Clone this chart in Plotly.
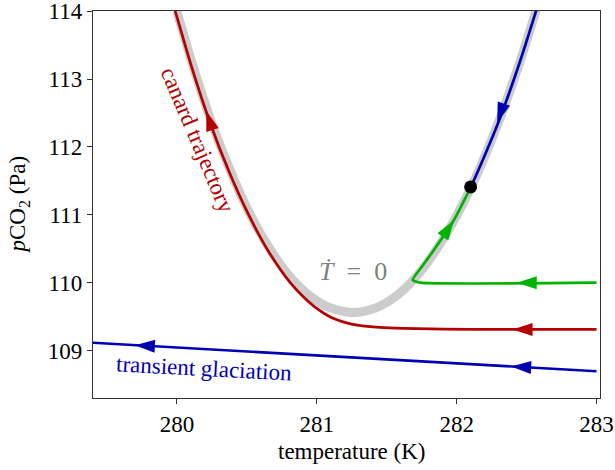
import plotly.graph_objects as go

# T-dot = 0 nullcline (gray band)
null_T = [280.00, 280.12, 280.25, 280.38, 280.52, 280.67, 280.82, 280.96, 281.10, 281.26,
          281.42, 281.56, 281.70, 281.90, 282.10, 282.30, 282.45, 282.60]
null_p = [114.00, 113.16, 112.35, 111.66, 111.02, 110.48, 110.06, 109.79, 109.625, 109.56,
          109.627, 109.79, 110.06, 110.63, 111.39, 112.37, 113.24, 114.23]

# canard trajectory (red)
red_T = [283.0, 282.1, 281.62, 281.45, 281.30, 281.20, 281.10, 281.00, 280.90, 280.81,
         280.655, 280.508, 280.368, 280.238, 280.108, 279.988, 279.97]
red_p = [109.31, 109.31, 109.325, 109.34, 109.37, 109.415, 109.49, 109.62, 109.80, 110.0,
         110.46, 111.02, 111.66, 112.35, 113.16, 114.00, 114.12]

# green trajectory
green_T = [283.0, 281.74, 281.685, 281.75, 281.83, 281.98, 282.10]
green_p = [110.0, 110.0, 110.04, 110.23, 110.46, 110.92, 111.40]

# blue trajectory on the upper branch
bluetop_T = [282.62, 282.45, 282.30, 282.20, 282.10]
bluetop_p = [114.35, 113.24, 112.37, 111.87, 111.40]

# transient glaciation (blue)
glac_T = [283.0, 279.35]
glac_p = [108.694, 109.12]

# fixed point
dot_T = [282.10]
dot_p = [111.41]

# arrows: tail T, tail p, tip T, tip p, colour key
arrow_tail_T = [279.85, 282.55, 282.55, 282.58, 281.91, 282.35, 280.27]
arrow_tail_p = [109.061, 108.747, 109.31, 110.0, 110.70, 112.71, 112.15]
arrow_tip_T = [279.70, 282.39, 282.40, 282.43, 281.98, 282.29, 280.21]
arrow_tip_p = [109.079, 108.765, 109.31, 110.0, 110.92, 112.36, 112.53]
arrow_col = ["blue", "blue", "red", "green", "green", "blue", "red"]

COL = {"red": "#b30000", "blue": "#0000b3", "green": "#00b300"}
FONT = "Liberation Serif, Times New Roman, serif"

fig = go.Figure()
fig.add_trace(go.Scatter(x=null_T, y=null_p, mode="lines",
                         line=dict(color="#cccccc", width=9, shape="spline", smoothing=1),
                         hoverinfo="skip"))
fig.add_trace(go.Scatter(x=red_T, y=red_p, mode="lines",
                         line=dict(color=COL["red"], width=2.7, shape="spline", smoothing=0.8)))
fig.add_trace(go.Scatter(x=green_T, y=green_p, mode="lines",
                         line=dict(color=COL["green"], width=2.7, shape="spline", smoothing=0.5)))
fig.add_trace(go.Scatter(x=bluetop_T, y=bluetop_p, mode="lines",
                         line=dict(color=COL["blue"], width=2.7, shape="spline", smoothing=0.8)))
fig.add_trace(go.Scatter(x=glac_T, y=glac_p, mode="lines",
                         line=dict(color=COL["blue"], width=2.7)))
fig.add_trace(go.Scatter(x=dot_T, y=dot_p, mode="markers",
                         marker=dict(color="black", size=13, opacity=1, line=dict(width=0))))

for tT, tp, hT, hp, c in zip(arrow_tail_T, arrow_tail_p, arrow_tip_T, arrow_tip_p, arrow_col):
    fig.add_trace(go.Scatter(x=[tT, hT], y=[tp, hp], mode="markers",
                             marker=dict(symbol="arrow", angleref="previous", opacity=1,
                                         size=[0, 21], color=COL[c], line=dict(width=0))))

fig.add_annotation(x=280.15, y=112.10, text="canard trajectory", showarrow=False,
                   textangle=67, font=dict(family=FONT, size=23, color=COL["red"]))
fig.add_annotation(x=280.196, y=108.73, text="transient glaciation", showarrow=False,
                   textangle=3, font=dict(family=FONT, size=23, color=COL["blue"]))
fig.add_annotation(x=281.256, y=110.17, text="<i>Ṫ</i>\u2002=\u20020", showarrow=False,
                   font=dict(family=FONT, size=26, color="#808080"))

# axis titles
fig.add_annotation(xref="paper", yref="paper", x=0.51, y=-0.137, text="temperature (K)",
                   showarrow=False, xanchor="center", yanchor="middle",
                   font=dict(family=FONT, size=23, color="black"))
fig.add_annotation(xref="paper", yref="paper", x=-0.146, y=0.50,
                   text="<i>p</i>CO<sub>2</sub> (Pa)", textangle=-90,
                   showarrow=False, xanchor="center", yanchor="middle",
                   font=dict(family=FONT, size=23, color="black"))

axis_common = dict(showline=True, mirror=True, linecolor="#333333", linewidth=1.3,
                   ticks="outside", ticklen=5, tickwidth=1.3, tickcolor="#333333",
                   showgrid=False, zeroline=False, automargin=False,
                   ticklabeloverflow="allow",
                   tickfont=dict(family=FONT, size=23, color="black"))

fig.update_layout(
    width=615, height=470,
    margin=dict(l=93, r=15, t=11, b=72, autoexpand=False),
    paper_bgcolor="white", plot_bgcolor="white",
    showlegend=False,
    xaxis=dict(range=[279.4, 283.025], tickvals=[280, 281, 282, 283], **axis_common),
    yaxis=dict(range=[108.30, 114.003], tickvals=[109, 110, 111, 112, 113, 114], **axis_common),
)

fig.write_html("out.html", config={"displayModeBar": False},
               post_script="document.body.style.margin='0';")
